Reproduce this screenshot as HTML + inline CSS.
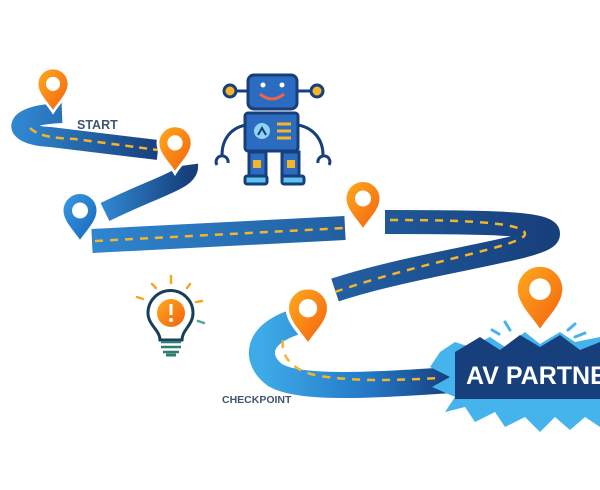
<!DOCTYPE html>
<html><head><meta charset="utf-8"><style>
html,body{margin:0;padding:0;background:#fff;width:600px;height:490px;overflow:hidden}
svg{display:block}
text{font-family:"Liberation Sans",sans-serif;font-weight:bold}
</style></head><body>
<svg width="600" height="490" viewBox="0 0 600 490" xmlns="http://www.w3.org/2000/svg">
<defs>
<linearGradient id="og" x1="0" y1="0" x2="1" y2="1"><stop offset="0" stop-color="#ffab1e"/><stop offset="1" stop-color="#f2600f"/></linearGradient>
<linearGradient id="bg" x1="0" y1="0" x2="1" y2="1"><stop offset="0" stop-color="#3a9be6"/><stop offset="1" stop-color="#1565b8"/></linearGradient>
<linearGradient id="rd" x1="0" y1="0" x2="1" y2="0"><stop offset="0" stop-color="#2f86cf"/><stop offset="1" stop-color="#173f7c"/></linearGradient>
<linearGradient id="rd2" x1="0" y1="0" x2="1" y2="0"><stop offset="0" stop-color="#3eaae8"/><stop offset="0.6" stop-color="#2275c4"/><stop offset="1" stop-color="#173f7c"/></linearGradient>
<symbol id="pin" viewBox="-20 -20 40 52" overflow="visible">
<path d="M0,30 C-6,20 -18,10 -18,-2 A18,18 0 1 1 18,-2 C18,10 6,20 0,30 Z" stroke="#fff" stroke-width="3"/>
<circle cx="0" cy="-2" r="8" fill="#fff"/>
</symbol>
</defs>
<g fill="none" stroke-linecap="butt">
<path d="M62,113 C10,115 10,135 50,137 L158,150" stroke="url(#rd)" stroke-width="20"/>
<path d="M30,128 C40,138 60,138 75,139 L158,150" stroke="#f5b52a" stroke-width="2.5" stroke-dasharray="8 6"/>
<path d="M188,165 C190,180 160,185 105,212" stroke="url(#rd)" stroke-width="20"/>
<path d="M92,241 L345,228 M385,222 C470,222 548,222 548,234 C548,248 420,262 335,290" stroke="url(#rd)" stroke-width="24"/>
<path d="M95,241 L345,228 M390,220 C460,220 525,222 525,234 C525,246 420,262 335,292" stroke="#f5b52a" stroke-width="2.5" stroke-dasharray="8 7"/>
<path d="M295,322 C255,335 255,360 275,375 C300,390 380,385 450,380" stroke="url(#rd2)" stroke-width="26"/>
<path d="M283,340 C280,358 295,372 320,376 C360,382 400,380 440,378" stroke="#f5b52a" stroke-width="2.5" stroke-dasharray="8 7"/>
</g>
<polygon points="440,352 455,342 470,347 490,337 505,347 525,332 540,344 560,332 575,342 600,337 600,427 585,417 570,430 555,417 540,432 525,417 505,427 495,412 475,422 465,407 445,412 455,397 432,387 450,377 430,367" fill="#45b3ec"/>
<polygon points="455,352 480,337 500,350 520,335 540,347 560,335 580,350 600,342 600,399 455,399" fill="#173f7c"/>
<text x="466" y="384" font-size="25" fill="#fff">AV PARTNER</text>
<g stroke="#45b3ec" stroke-width="3" stroke-linecap="round">
<line x1="492" y1="330" x2="499" y2="334"/><line x1="505" y1="322" x2="510" y2="330"/>
<line x1="568" y1="330" x2="575" y2="324"/><line x1="575" y1="337" x2="585" y2="333"/>
</g>
<use href="#pin" x="35" y="68" width="36" height="46" fill="url(#og)"/>
<use href="#pin" x="156" y="124" width="38" height="53" fill="url(#og)"/>
<use href="#pin" x="60" y="190" width="40" height="57" fill="url(#bg)"/>
<use href="#pin" x="343" y="178" width="40" height="57" fill="url(#og)"/>
<use href="#pin" x="285" y="280" width="46" height="75" fill="url(#og)"/>
<use href="#pin" x="513" y="260" width="54" height="80" fill="url(#og)"/>
<text x="77" y="129" font-size="12.5" fill="#3f5573">START</text>
<text x="222" y="403" font-size="10.5" fill="#3f5573">CHECKPOINT</text>
<g stroke="#173f7c" stroke-width="3">
<line x1="232" y1="91" x2="248" y2="91"/><line x1="297" y1="91" x2="315" y2="91"/>
<circle cx="230" cy="91" r="6" fill="#f5b52a"/><circle cx="317" cy="91" r="6" fill="#f5b52a"/>
<path d="M246,125 C230,128 222,140 222,155" fill="none"/><path d="M298,125 C314,128 323,140 323,155" fill="none"/>
<path d="M217,165 A6,6 0 1 1 228,163" fill="none"/><path d="M318,163 A6,6 0 1 1 329,165" fill="none"/>
<rect x="248" y="75" width="49" height="34" rx="6" fill="#2b6cc0"/>
<rect x="245" y="113" width="53" height="38" rx="3" fill="#2b6cc0"/>
<rect x="249" y="152" width="17" height="26" fill="#2b6cc0"/><rect x="282" y="152" width="17" height="26" fill="#2b6cc0"/>
<rect x="245" y="176" width="22" height="8" rx="2" fill="#5ec3ef"/><rect x="282" y="176" width="22" height="8" rx="2" fill="#5ec3ef"/>
</g>
<circle cx="263" cy="85" r="2.5" fill="#fff"/><circle cx="282" cy="85" r="2.5" fill="#fff"/>
<path d="M260,94 Q272,104 284,94" stroke="#f0644a" stroke-width="3" fill="none"/>
<circle cx="262" cy="131" r="8" fill="#8fd3f2"/>
<path d="M258,135 L262,128 L266,135" stroke="#173f7c" stroke-width="2" fill="none"/>
<g stroke="#f5b52a" stroke-width="3"><line x1="277" y1="124" x2="291" y2="124"/><line x1="277" y1="131" x2="291" y2="131"/><line x1="277" y1="138" x2="291" y2="138"/></g>
<rect x="253" y="160" width="8" height="8" fill="#f5b52a"/><rect x="287" y="160" width="8" height="8" fill="#f5b52a"/>
<g>
<g stroke="#f5a623" stroke-width="2.5" stroke-linecap="round">
<line x1="171" y1="276" x2="171" y2="283"/><line x1="152" y1="284" x2="156" y2="288"/><line x1="190" y1="284" x2="187" y2="288"/>
<line x1="137" y1="297" x2="143" y2="299"/><line x1="202" y1="301" x2="196" y2="302"/>
</g>
<line x1="198" y1="321" x2="204" y2="323" stroke="#4aa89a" stroke-width="2.5" stroke-linecap="round"/>
<path d="M160,340 C160,330 148,325 148,313 A22,22 0 1 1 193,313 C193,325 182,330 182,340 Z" fill="#fff" stroke="#173f5c" stroke-width="3"/>
<circle cx="171" cy="313" r="14" fill="url(#og)"/>
<line x1="171" y1="304" x2="171" y2="315" stroke="#fff" stroke-width="3"/><circle cx="171" cy="320" r="2" fill="#fff"/>
<g stroke="#2e7d6e" stroke-width="2.5"><line x1="161" y1="342" x2="181" y2="342"/><line x1="161" y1="347" x2="181" y2="347"/><line x1="163" y1="352" x2="179" y2="352"/></g>
<path d="M166,355 L176,355" stroke="#2e7d6e" stroke-width="3"/>
</g>
</svg>
</body></html>
